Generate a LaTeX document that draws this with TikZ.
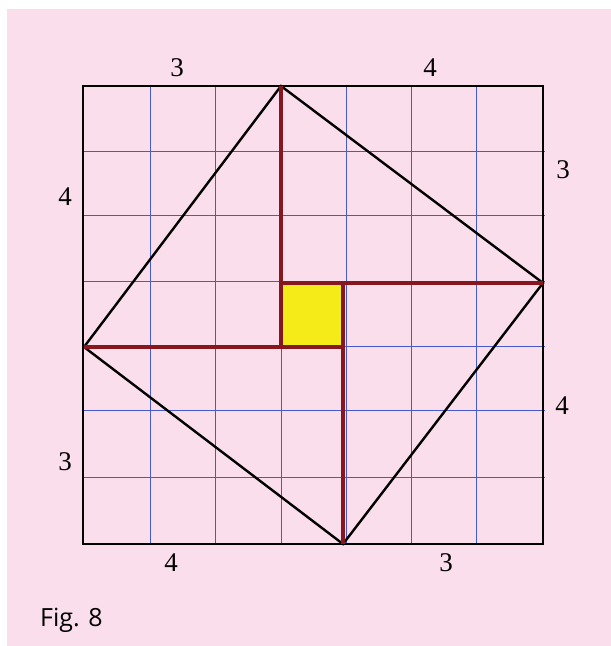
\documentclass[tikz,border=0pt]{standalone}
\usepackage{fontspec}
\setmainfont{Liberation Serif}
\newfontfamily\figfont{Open Sans}
\definecolor{bgpink}{RGB}{251,222,236}
\definecolor{gridblue}{RGB}{70,90,200}
\definecolor{darkred}{RGB}{135,22,30}
\definecolor{fillyellow}{RGB}{245,235,25}
\begin{document}
\begin{tikzpicture}[x=1pt,y=-1pt,
  gridline/.style={gridblue,line width=1pt},
  border/.style={black,line width=2.6pt,line join=miter},
  tilt/.style={black,line width=2.4pt,line cap=round},
  redline/.style={darkred,line width=3.6pt},
  num/.style={font=\fontsize{27}{27}\selectfont,inner sep=0pt},
  figlabel/.style={font=\figfont\fontsize{25}{25}\selectfont,inner sep=0pt,anchor=west}]
\useasboundingbox (0,0) rectangle (611,646);
\fill[white] (0,0) rectangle (611,646);
\fill[bgpink] (7,9) rectangle (611,646);
% grid
\foreach \x in {150,215,281,346,411,476}
  \draw[gridline] (\x,86) -- (\x,544);
\foreach \y in {151,215,281,346,410,477}
  \draw[gridline] (83,\y) -- (545,\y);
% outer square
\coordinate (tl) at (83,86);
\coordinate (tr) at (543,86);
\coordinate (br) at (543,544);
\coordinate (bl) at (83,544);
\draw[border] (tl) -- (tr) -- (br) -- (bl) -- cycle;
% tilted square vertices
\coordinate (vt) at (281,86);
\coordinate (vr) at (543,283);
\coordinate (vb) at (343,544);
\coordinate (vl) at (84,347);
% inner square corners
\coordinate (a) at (281,283);
\coordinate (b) at (343,283);
\coordinate (c) at (343,347);
\coordinate (d) at (281,347);
\fill[fillyellow] (a) rectangle (c);
\draw[tilt] (vt) -- (vr) -- (vb) -- (vl) -- cycle;
\draw[redline] (vt) -- (d);
\draw[redline] (vl) -- (c);
\draw[redline] (vb) -- (b);
\draw[redline] (vr) -- (a);
% labels
\node[num] (l1) at (177,68) {3};
\node[num] (l2) at (430,68) {4};
\node[num] (l3) at (563,170) {3};
\node[num] (l4) at (65,197) {4};
\node[num] (l5) at (562,406) {4};
\node[num] (l6) at (65,462) {3};
\node[num] (l7) at (171,563) {4};
\node[num] (l8) at (446,563) {3};
\node[figlabel] (fig) at (40,620) {Fig. 8};
\end{tikzpicture}
\end{document}
